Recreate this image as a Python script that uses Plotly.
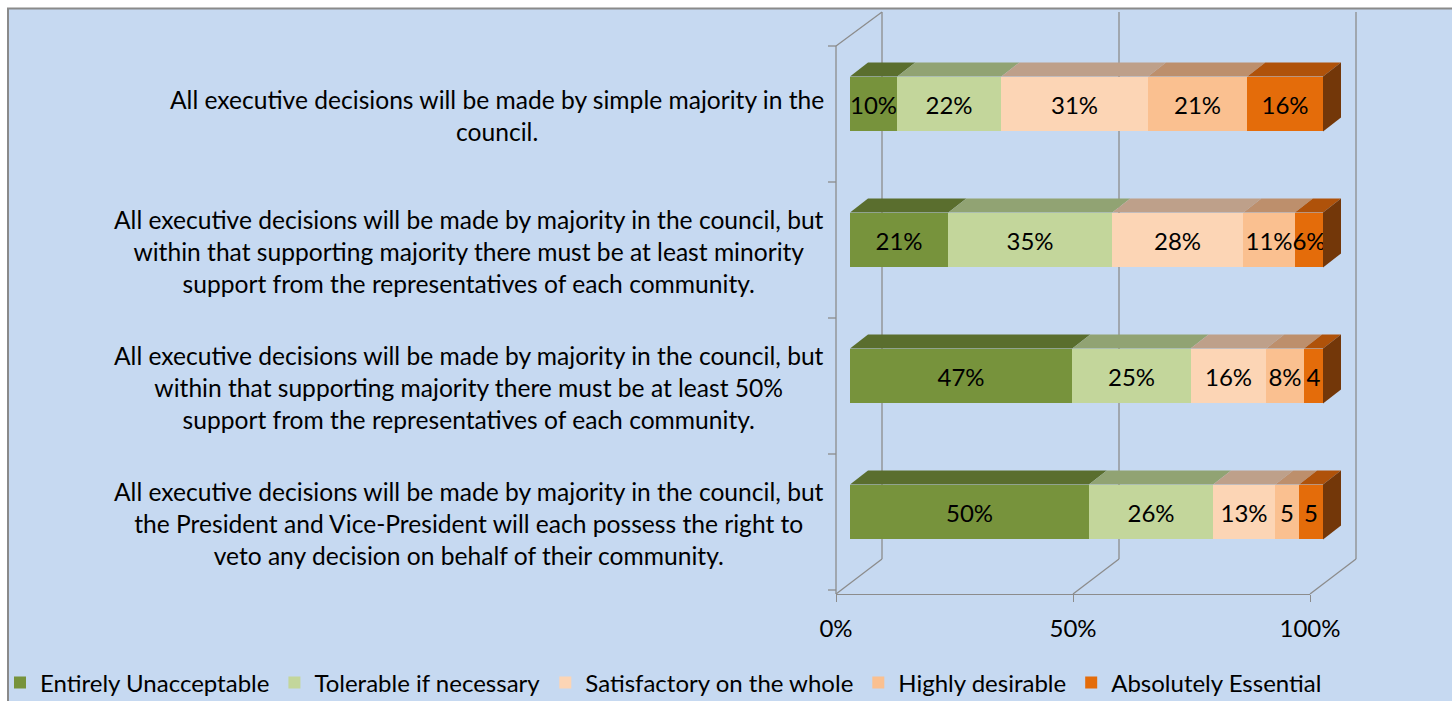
import plotly.graph_objects as go

# ---------------- data ----------------
categories = [
    "All executive decisions will be made by simple majority in the<br>council.",
    "All executive decisions will be made by majority in the council, but<br>within that supporting majority there must be at least minority<br>support from the representatives of each community.",
    "All executive decisions will be made by majority in the council, but<br>within that supporting majority there must be at least 50%<br>support from the representatives of each community.",
    "All executive decisions will be made by majority in the council, but<br>the President and Vice-President will each possess the right to<br>veto any decision on behalf of their community.",
]
series_names = [
    "Entirely Unacceptable",
    "Tolerable if necessary",
    "Satisfactory on the whole",
    "Highly desirable",
    "Absolutely Essential",
]
entirely_unacceptable = [10, 21, 47, 50]
tolerable_if_necessary = [22, 35, 25, 26]
satisfactory_on_whole = [31, 28, 16, 13]
highly_desirable = [21, 11, 8, 5]
absolutely_essential = [16, 6, 4, 5]
series_values = [entirely_unacceptable, tolerable_if_necessary,
                 satisfactory_on_whole, highly_desirable, absolutely_essential]
tick_values = [0, 50, 100]
tick_labels = ["0%", "50%", "100%"]

# ---------------- styles ----------------
W, H = 1452, 701
front_colors = ["#77933C", "#C3D69B", "#FCD5B5", "#FAC090", "#E46C0A"]
top_colors = ["#5A6E2E", "#91A373", "#BEA08A", "#BD8F6C", "#AF520A"]
side_color = "#733709"
bg_color = "#C6D9F1"
grid_color = "#8C8C8C"
FONT = "Lato"
FS = 24

def px_x(p):
    return p / W

def px_y(p):
    return 1 - p / H

bar_left, bar_right = 850, 1323     # pixel extent of 0..100 on the bar plane
px_per_unit = (bar_right - bar_left) / 100
x_max = 110                          # room for the 3D side faces
plot_top, plot_bottom = 36, 580      # y-domain in pixels
bar_w = 0.404
dx_units = 18 / px_per_unit
dy_units = 14 / ((plot_bottom - plot_top) / 4)

idx = list(range(len(categories)))
row_totals = [sum(s[i] for s in series_values) for i in idx]

fig = go.Figure()
for name, vals, col in zip(series_names, series_values, front_colors):
    labels = [f"{v}%" if v >= 6 else str(v) for v in vals]
    fig.add_trace(go.Bar(
        name=name, x=vals, y=idx, orientation="h",
        marker=dict(color=col, line=dict(width=0)),
        width=bar_w, text=labels, textposition="inside",
        insidetextanchor="middle", textangle=0,
        textfont=dict(family=FONT, size=FS, color="black"),
        hoverinfo="skip",
    ))

# invisible trace to activate the front-plane value axis
fig.add_trace(go.Scatter(x=[0, 100], y=[0, 0], xaxis="x2", yaxis="y",
                         mode="markers", marker=dict(opacity=0),
                         showlegend=False, hoverinfo="skip"))

shapes = []
# chart area background + border
shapes.append(dict(type="rect", xref="paper", yref="paper", layer="below",
                   x0=px_x(8), x1=px_x(1470), y0=px_y(720), y1=px_y(8.5),
                   fillcolor=bg_color, line=dict(color="#8A8A8A", width=2)))

# 3D walls / floor (decoration in pixel space)
def line(x0, y0, x1, y1, w=1.3):
    shapes.append(dict(type="line", xref="paper", yref="paper", layer="below",
                       x0=px_x(x0), y0=px_y(y0), x1=px_x(x1), y1=px_y(y1),
                       line=dict(color=grid_color, width=w)))

front0, front100, floor_y = 836, 1310, 594
back_dx, back_dy = 46, -35
for t in tick_values:
    fx = front0 + (front100 - front0) * t / 100
    line(fx, floor_y, fx + back_dx, floor_y + back_dy)
    line(fx + back_dx, floor_y + back_dy, fx + back_dx, 12)
# left wall
line(front0, floor_y, front0, 46)
line(front0, 46, front0 + back_dx, 12)
for k in range(5):
    yy = 46 + k * 136
    if yy < floor_y:
        line(828, yy, front0, yy)

# 3D top faces and right side of 100%-stacked bars (derived from data)
for i in idx:
    cum = 0.0
    y_top = i - bar_w / 2
    y_bot = i + bar_w / 2
    for s, vals in enumerate(series_values):
        share = vals[i] / row_totals[i] * 100
        x0, x1 = cum, cum + share
        path = (f"M {x0},{y_top} L {x1},{y_top} L {x1 + dx_units},{y_top - dy_units} "
                f"L {x0 + dx_units},{y_top - dy_units} Z")
        shapes.append(dict(type="path", xref="x", yref="y", path=path,
                           fillcolor=top_colors[s], line=dict(width=0), layer="above"))
        cum = x1
    path = (f"M {cum},{y_top} L {cum + dx_units},{y_top - dy_units} "
            f"L {cum + dx_units},{y_bot - dy_units} L {cum},{y_bot} Z")
    shapes.append(dict(type="path", xref="x", yref="y", path=path,
                       fillcolor=side_color, line=dict(width=0), layer="above"))

annotations = []
for i, c in enumerate(categories):
    annotations.append(dict(
        text=c, xref="paper", yref="y", x=px_x(826), y=i + 0.088,
        xanchor="right", yanchor="middle", align="center", showarrow=False,
        font=dict(family=FONT, size=24.6, color="black"),
    ))

fig.update_layout(
    width=W, height=H, autosize=False,
    margin=dict(l=0, r=0, t=0, b=0, autoexpand=False),
    paper_bgcolor="white", plot_bgcolor="rgba(0,0,0,0)",
    barmode="stack", barnorm="percent", bargap=0,
    font=dict(family=FONT, size=FS, color="black"),
    uniformtext=dict(minsize=FS, mode="show"),
    xaxis=dict(domain=[px_x(bar_left), px_x(bar_left + px_per_unit * x_max)],
               range=[0, x_max],
               showgrid=False, zeroline=False, showticklabels=False,
               showline=False, fixedrange=True),
    xaxis2=dict(domain=[px_x(front0), px_x(front100)], range=[0, 100],
                anchor="free", position=px_y(floor_y),
                tickvals=tick_values, ticktext=tick_labels,
                ticks="outside", ticklen=7, tickcolor=grid_color,
                ticklabelstandoff=6,
                showline=True, linecolor=grid_color, linewidth=1.3,
                showgrid=False, zeroline=False, fixedrange=True,
                tickfont=dict(family=FONT, size=FS, color="black")),
    yaxis=dict(domain=[px_y(plot_bottom), px_y(plot_top)], range=[3.5, -0.5],
               showgrid=False, zeroline=False, showticklabels=False,
               showline=False, fixedrange=True),
    legend=dict(orientation="h", x=px_x(0), y=px_y(683), xanchor="left",
                yanchor="middle", bgcolor="rgba(0,0,0,0)",
                font=dict(family=FONT, size=FS, color="black"),
                traceorder="normal", itemwidth=30),
    shapes=shapes, annotations=annotations,
    showlegend=True,
)

fig.write_html(
    "out.html",
    config={"displayModeBar": False},
    post_script="document.body.style.margin='0';document.body.style.overflow='hidden';",
)
